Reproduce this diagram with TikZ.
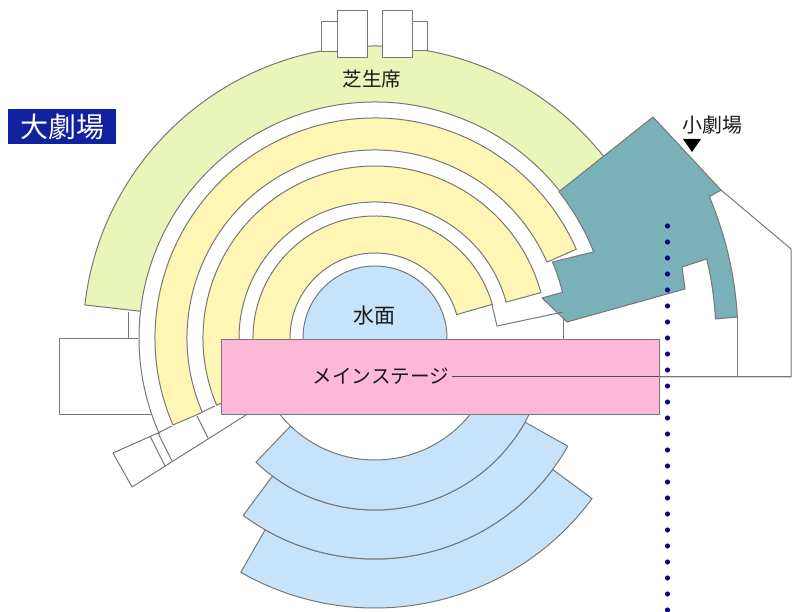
\documentclass[tikz,border=0pt]{standalone}
\usepackage{fontspec}
\setmainfont{Noto Sans CJK JP}
\newcommand\pol[2]{([shift={(375,338)}]#1:#2)}
\newcommand\ringp[4]{\pol{#3}{#1} arc[start angle=#3,end angle=#4,radius=#1] -- \pol{#4}{#2} arc[start angle=#4,end angle=#3,radius=#2] -- cycle}
\definecolor{edgec}{HTML}{777777}
\definecolor{grassc}{HTML}{E9F5B9}
\definecolor{seatc}{HTML}{FFF5B4}
\definecolor{bluec}{HTML}{C6E3FA}
\definecolor{pinkc}{HTML}{FDB8D8}
\definecolor{tealc}{HTML}{7AB0B8}
\definecolor{navyc}{HTML}{1022A0}
\definecolor{dotc}{HTML}{0A0A80}
\tikzset{
  ln/.style={draw=edgec,line width=1pt,line join=round},
  grassp/.style={ln,fill=grassc},
  seatp/.style={ln,fill=seatc},
  bluep/.style={ln,fill=bluec},
  plain/.style={ln,fill=white},
  lab/.style={font=\fontsize{19.6}{20}\selectfont,text=black!90,inner sep=0pt}
}
\begin{document}
\begin{tikzpicture}[x=1pt,y=1pt,yscale=-1]
\useasboundingbox (0,0) rectangle (801,612);
% grass and the rooms on top of it
\path[grassp] \ringp{236}{292}{-33}{-173.5};
\draw[plain] (321,22) rectangle (337,52);
\draw[plain] (412,22) rectangle (427,51);
\draw[plain] (337,11) rectangle (367,58);
\draw[plain] (382,11) rectangle (412,58);
% outer wall arc
\draw[ln] \pol{-173.5}{236} arc[start angle=-173.5,end angle=-204,radius=236];
% left room
\draw[ln] (128,312) -- (128,339) -- (59,339) -- (59,414) -- (150.5,414);
\draw[ln] (128,339) -- (138,339);
% lower-left rooms
\draw[ln] (246,415) -- (132,487) -- (113,453) -- (158,433) -- (172,426);
\draw[ln] (202,412) -- (215,406);
\draw[ln] (150,436) -- (165,466);
\draw[ln] (158,433) -- (172,461);
\draw[ln] (197,416) -- (208,438);
% seats
\path[seatp] \ringp{85}{122}{-16}{-190};
\path[seatp] \ringp{136}{172}{-15.3}{-203};
\path[seatp] \ringp{188}{220}{-23.8}{-203.3};
% water
\path[bluep] (375,338) circle[radius=72];
% front seats
\path[bluep] \ringp{221}{270}{36.5}{119.8};
\path[bluep] \ringp{172}{221}{29.3}{126.6};
\path[bluep] \ringp{122}{172}{20}{133.8};
\draw[ln] \pol{133}{122} arc[start angle=133,end angle=145,radius=122];
% small theatre walls
\draw[ln] (721,190) -- (791,249) -- (791,377) -- (452,377);
\draw[ln] (737.5,317) -- (737.5,377);
\draw[ln] (563,312) -- (563,339);
% small theatre
\path[ln,fill=tealc] (653,117) -- (721,190) -- \pol{-22.9}{363} arc[start angle=-22.9,end angle=-3.3,radius=363]
  -- \pol{-3.2}{341} arc[start angle=-3.2,end angle=-13.4,radius=341]
  -- (682,267) -- (685,289) -- (567,322) -- (542,298) -- \pol{-13.7}{193} arc[start angle=-13.7,end angle=-23.2,radius=193]
  -- \pol{-21.5}{235} arc[start angle=-21.5,end angle=-38.5,radius=235] -- cycle;
\draw[ln] (492,305) -- (497,326) -- (563,312);
% main stage
\node[ln,fill=pinkc,inner sep=0pt,minimum width=438pt,minimum height=75pt,anchor=north west] (stage) at (221,339) {};
\node[lab] (stagelab) at (381,376) {メインステージ};
\coordinate (leadend) at (659,377);
\draw[draw=black!70,line width=1pt] (452,377) -- (leadend);
\draw[ln] (leadend) -- (791,377);
% labels
\node[lab] (grasslab) at (372,79) {芝生席};
\node[lab,font=\fontsize{21}{21}\selectfont] (waterlab) at (374,316) {水面};
\node[lab,font=\fontsize{20}{20}\selectfont] (smalllab) at (712,125) {小劇場};
\fill[black] (683,139) -- (701,139) -- (692,152) -- cycle;
\node[fill=navyc,text=white,font=\fontsize{28}{28}\selectfont,inner sep=0pt,minimum width=108pt,minimum height=35pt] (title) at (62,127) {大劇場};
% dotted line
\foreach \k in {0,...,24} \fill[dotc] (667.5,226+16*\k) circle[radius=2.6];
\end{tikzpicture}
\end{document}
